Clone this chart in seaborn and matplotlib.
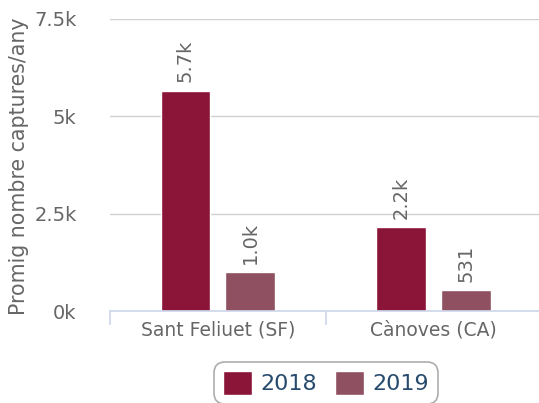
import matplotlib
matplotlib.use("Agg")
import matplotlib.pyplot as plt
import seaborn as sns
import pandas as pd
from matplotlib.ticker import FuncFormatter, FixedLocator

# Data
categories = ["Sant Feliuet (SF)", "Cànoves (CA)"]
years = ["2018", "2019"]
values_2018 = [5660, 2160]
values_2019 = [1003, 531]
colors = ["#8A1538", "#8F5161"]

df = pd.DataFrame({
    "zona": categories * 2,
    "any": [years[0]] * 2 + [years[1]] * 2,
    "captures": values_2018 + values_2019,
})

sns.set_theme(style="white")
plt.rcParams["font.family"] = ["DejaVu Sans"]

fig = plt.figure(figsize=(5.39, 4.03), dpi=100)
ax = fig.add_axes([0.204, 0.228, 0.80, 0.725])

sns.barplot(data=df, x="zona", y="captures", hue="any", palette=colors,
            width=0.6, gap=0.23, edgecolor="white", linewidth=1,
            saturation=1, ax=ax, legend=True)

ax.set_xlim(-0.5, 1.5)
ax.set_ylim(0, 7500)

# Axis styling
for s in ["top", "right", "left"]:
    ax.spines[s].set_visible(False)
ax.spines["bottom"].set_color("#ccd6eb")
ax.spines["bottom"].set_linewidth(1.2)

ax.yaxis.set_major_locator(FixedLocator([0, 2500, 5000, 7500]))
ax.yaxis.set_major_formatter(FuncFormatter(lambda v, p: f"{v/1000:g}k"))
ax.grid(axis="y", color="#d0d0d0", linewidth=1)
ax.set_axisbelow(True)
ax.tick_params(axis="y", length=0, pad=24, labelsize=14, labelcolor="#666666")
ax.tick_params(axis="x", which="major", length=0, pad=7, labelsize=13.5, labelcolor="#666666")
ax.xaxis.set_minor_locator(FixedLocator([-0.5, 0.5, 1.5]))
ax.tick_params(axis="x", which="minor", length=10, width=1.2, color="#ccd6eb", direction="out")
ax.tick_params(axis="x", which="minor", bottom=True)

ax.set_xlabel("")
ax.set_ylabel("Promig nombre captures/any", fontsize=14.8, color="#666666",
              va="center", ha="center")
ax.yaxis.set_label_coords(-0.21, 0.497)

# Value labels above each bar
def fmt(v):
    return f"{v/1000:.1f}k" if v >= 1000 else f"{int(v)}"

for container in ax.containers:
    for bar in container:
        h = bar.get_height()
        ax.annotate(fmt(h), (bar.get_x() + bar.get_width() / 2, h),
                    xytext=(0, 6), textcoords="offset points",
                    rotation=90, ha="center", va="bottom",
                    fontsize=14, color="#666666")

# Legend
ax.legend_.remove()
handles, labels = ax.get_legend_handles_labels()
leg = fig.legend(handles, labels, loc="upper center", bbox_to_anchor=(0.605, 0.13),
                 ncol=2, frameon=True, fancybox=True, fontsize=16,
                 handlelength=1.3, handleheight=1.3, handletextpad=0.4,
                 columnspacing=0.8, borderpad=0.4, labelcolor="#274b6d")
leg.get_frame().set_edgecolor("#999999")
leg.get_frame().set_linewidth(1.2)
leg.get_frame().set_boxstyle("round", pad=0.0, rounding_size=0.5)

fig.savefig("out.png", dpi=100)
